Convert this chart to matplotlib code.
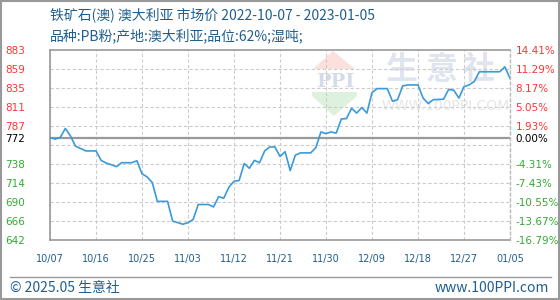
import pandas as pd
import matplotlib
matplotlib.use("Agg")
import matplotlib.pyplot as plt
from matplotlib.patches import Rectangle, Polygon

plt.rcParams['font.family'] = ['DejaVu Sans', 'Noto Sans CJK SC']

title = "铁矿石(澳) 澳大利亚 市场价 2022-10-07 - 2023-01-05"
subtitle = "品种:PB粉;产地:澳大利亚;品位:62%;湿吨;"

dates = ['2022-10-07', '2022-10-08', '2022-10-09', '2022-10-10', '2022-10-11', '2022-10-12',
         '2022-10-13', '2022-10-14', '2022-10-16', '2022-10-17', '2022-10-18', '2022-10-19',
         '2022-10-20', '2022-10-21', '2022-10-23', '2022-10-24', '2022-10-25', '2022-10-26',
         '2022-10-27', '2022-10-28', '2022-10-30', '2022-10-31', '2022-11-01', '2022-11-02',
         '2022-11-03', '2022-11-04', '2022-11-05', '2022-11-07', '2022-11-08', '2022-11-09',
         '2022-11-10', '2022-11-11', '2022-11-12', '2022-11-13', '2022-11-14', '2022-11-15',
         '2022-11-16', '2022-11-17', '2022-11-18', '2022-11-19', '2022-11-20', '2022-11-21',
         '2022-11-22', '2022-11-23', '2022-11-24', '2022-11-25', '2022-11-27', '2022-11-28',
         '2022-11-29', '2022-11-30', '2022-12-01', '2022-12-02', '2022-12-03', '2022-12-04',
         '2022-12-05', '2022-12-06', '2022-12-07', '2022-12-08', '2022-12-09', '2022-12-10',
         '2022-12-12', '2022-12-13', '2022-12-14', '2022-12-15', '2022-12-16', '2022-12-18',
         '2022-12-19', '2022-12-20', '2022-12-21', '2022-12-23', '2022-12-24', '2022-12-25',
         '2022-12-26', '2022-12-27', '2022-12-28', '2022-12-29', '2022-12-30', '2023-01-03',
         '2023-01-04', '2023-01-05']
prices = [772, 770, 772, 783.5, 774, 761, 758, 755, 755, 743, 739.5, 737.5,
          735, 740, 740, 742.5, 726, 722, 715, 691, 691, 666, 664, 662,
          664, 668, 687, 687, 684, 697, 695, 709, 716.5, 717.5, 739, 733,
          743, 740, 755, 760, 760, 748, 754, 730, 749.6, 752.5, 752.5, 759,
          779, 777, 779, 777.6, 795.5, 796, 809, 803, 810, 803, 829, 834,
          834, 818, 820, 837.5, 838.7, 838.7, 822, 815, 820, 820.6, 833, 832,
          822, 836.6, 838.7, 843, 855.4, 855.4, 861.7, 847]

x_ticks = ['2022-10-07', '2022-10-16', '2022-10-25', '2022-11-03', '2022-11-12', '2022-11-21',
           '2022-11-30', '2022-12-09', '2022-12-18', '2022-12-27', '2023-01-05']
x_labels = ['10/07', '10/16', '10/25', '11/03', '11/12', '11/21',
            '11/30', '12/09', '12/18', '12/27', '01/05']

grid_levels = [883, 858.9, 834.8, 810.7, 786.6, 762.5, 738.4, 714.3, 690.2, 666.1, 642]
y_ticks = [883, 858.9, 834.8, 810.7, 786.6, 772, 738.4, 714.3, 690.2, 666.1, 642]
left_labels = ['883', '859', '835', '811', '787', '772', '738', '714', '690', '666', '642']
right_labels = ['14.41%', '11.29%', '8.17%', '5.05%', '1.93%', '0.00%',
                '-4.31%', '-7.43%', '-10.55%', '-13.67%', '-16.79%']
base_price = 772

RED = '#ff3333'
GREEN = '#33aa33'
BLUE_TXT = '#1f5f8f'
GRAY = '#999999'
CJK = ['Noto Sans CJK SC', 'DejaVu Sans']

fig = plt.figure(figsize=(5.6, 3), dpi=100)

# watermark layer, pixel coords
bg = fig.add_axes([0, 0, 1, 1], zorder=0)
bg.set_xlim(0, 560)
bg.set_ylim(300, 0)
bg.axis('off')
bg.add_patch(Polygon([(313, 69), (355, 69), (333, 51)], closed=True, color='#fbe0dc', lw=0))
bg.text(335, 82, 'PPI', fontsize=14, family='DejaVu Serif', fontweight='bold',
        color='#d5dbe8', ha='center', va='center')
bg.add_patch(Polygon([(312, 92), (357, 92), (357, 96), (334, 116), (312, 96)], closed=True,
                     color='#def0de', lw=0))
for cx, ch in zip([401, 442, 479], ['生', '意', '社']):
    bg.text(cx, 70, ch, fontsize=23, family='Noto Sans CJK SC', fontweight='bold',
            color='#dfe4ee', ha='center', va='center')
bg.text(446, 106, 'WWW.100PPI.COM', fontsize=10, color='#e6e6e6', ha='center', va='center')

ax = fig.add_axes([50 / 560, 60 / 300, 460 / 560, 190 / 300], zorder=1)
ax.patch.set_alpha(0)
x = pd.to_datetime(dates)
ax.plot(x, prices, color='#3b9ad9', lw=1.2, zorder=3)
ax.axhline(base_price, color=GRAY, lw=1.6, zorder=2)
for lv in grid_levels[1:-1]:
    ax.axhline(lv, color='#cccccc', lw=0.8, ls=(0, (3, 2)), zorder=1)

ax.set_xlim(pd.Timestamp(x_ticks[0]), pd.Timestamp(x_ticks[-1]))
ax.set_ylim(grid_levels[-1], grid_levels[0])
ax.set_xticks(pd.to_datetime(x_ticks), x_labels)
ax.grid(axis='x', color='#cccccc', lw=0.8, ls=(0, (3, 2)))
ax.tick_params(axis='x', length=0, pad=10, labelsize=7, labelcolor=BLUE_TXT)

ax.set_yticks(y_ticks, left_labels)
ax.tick_params(axis='y', length=0, pad=32, labelsize=7.5)
for t, lab in zip(ax.get_yticklabels(), left_labels):
    t.set_ha('left')
    v = float(lab)
    t.set_color(RED if v > base_price else ('black' if v == base_price else GREEN))

for s in ['left', 'bottom', 'top']:
    ax.spines[s].set_color(GRAY)
    ax.spines[s].set_linewidth(1.2)
ax.spines['right'].set_visible(False)

ax2 = ax.twinx()
ax2.set_ylim(ax.get_ylim())
ax2.set_yticks(y_ticks, right_labels)
ax2.tick_params(axis='y', length=0, pad=4, labelsize=7.5)
for t, lab in zip(ax2.get_yticklabels(), right_labels):
    v = float(lab.rstrip('%'))
    t.set_color(RED if v > 0 else ('black' if v == 0 else GREEN))
for s in ['left', 'bottom', 'top']:
    ax2.spines[s].set_visible(False)
ax2.spines['right'].set_color('#bbbbbb')
ax2.spines['right'].set_linestyle((0, (2, 2)))
ax2.spines['right'].set_linewidth(1)

fig.text(50 / 560, 1 - 15 / 300, title, fontsize=10, color=BLUE_TXT, va='center', family=CJK)
fig.text(50 / 560, 1 - 36 / 300, subtitle, fontsize=10, color=BLUE_TXT, va='center', family=CJK)

fig.add_artist(plt.Line2D([10 / 560, 551 / 560], [1 - 277 / 300, 1 - 277 / 300],
                          color=GRAY, lw=1))
fig.text(10 / 560, 1 - 288 / 300, '© 2025.05 生意社', fontsize=10, color=BLUE_TXT,
         va='center', family=CJK)
fig.text(549 / 560, 1 - 288 / 300, 'www.100PPI.com', fontsize=10, color=BLUE_TXT,
         va='center', ha='right', family=CJK)
fig.add_artist(Rectangle((0.001, 0.002), 0.997, 0.995, transform=fig.transFigure,
                         fill=False, edgecolor=GRAY, lw=1.5))

fig.savefig('out.png', dpi=100)
